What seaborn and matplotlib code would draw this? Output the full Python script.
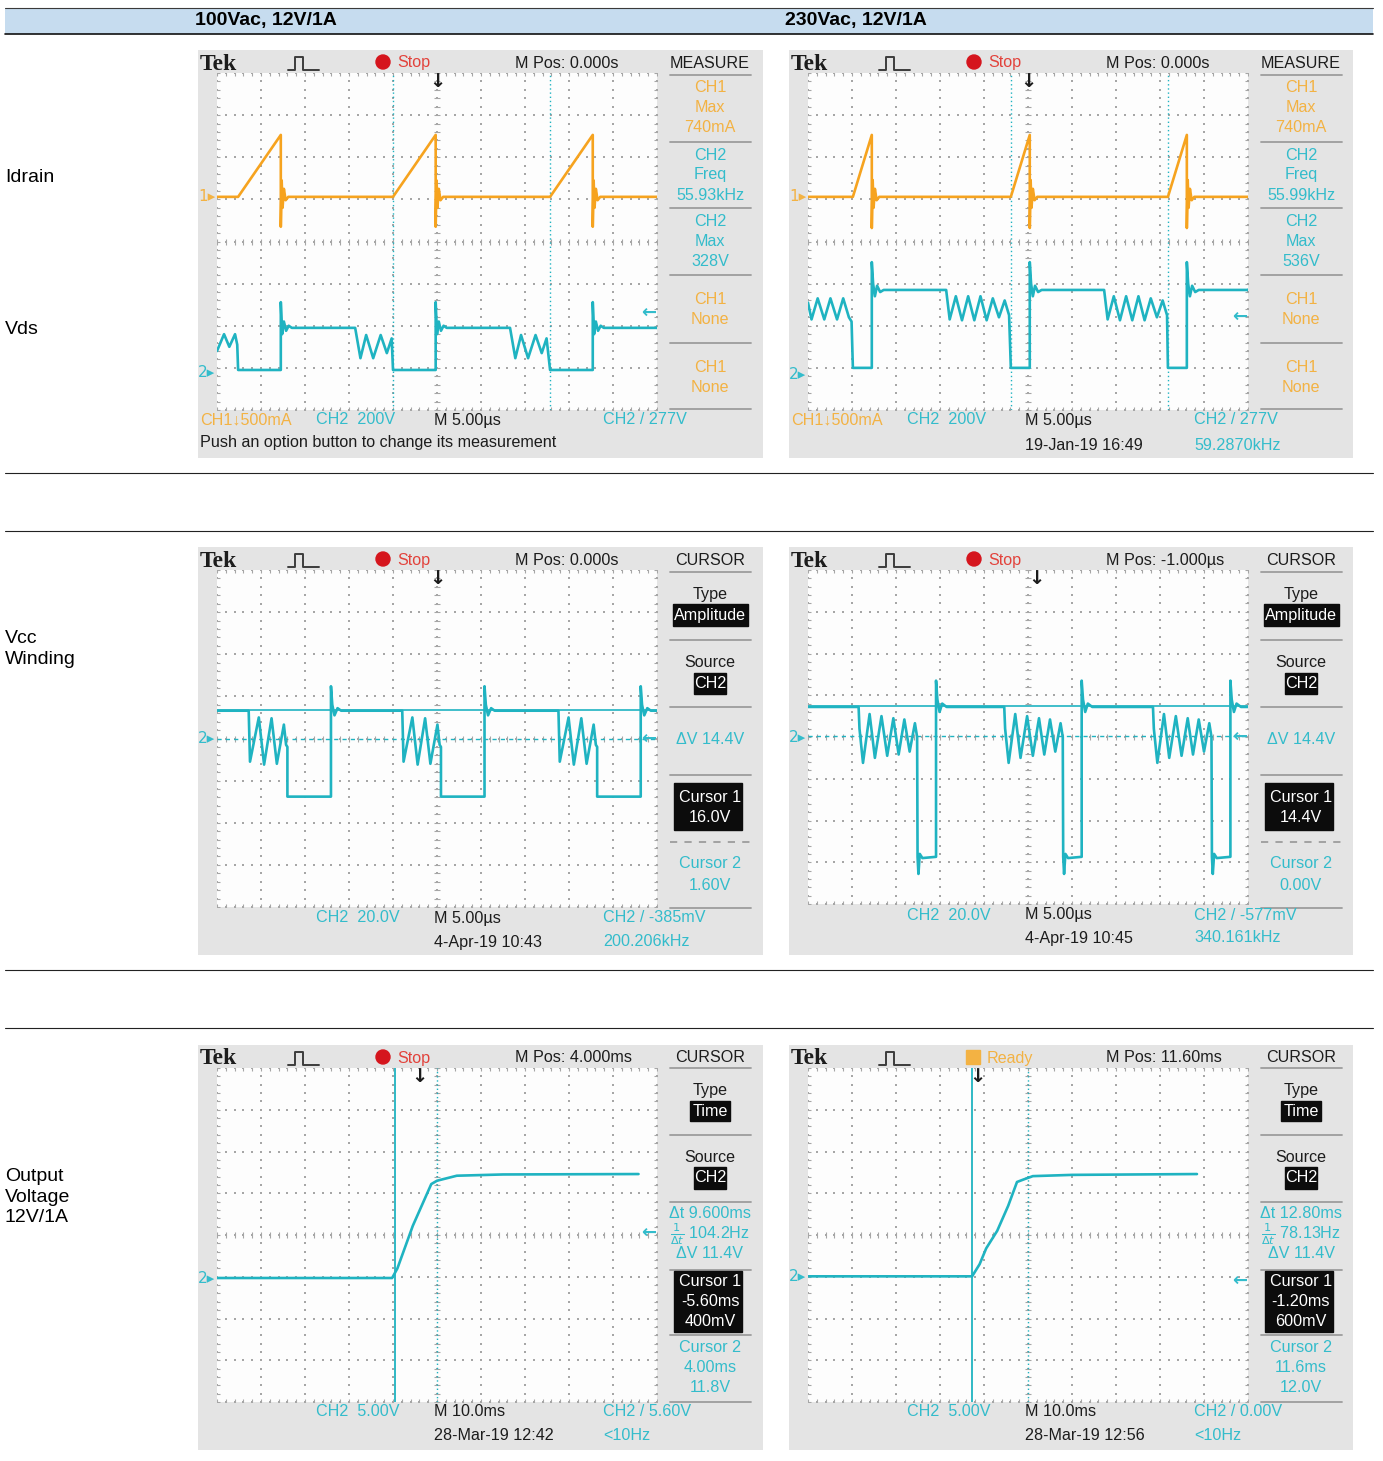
import matplotlib
matplotlib.use("Agg")
import matplotlib.pyplot as plt
from matplotlib.patches import Rectangle, Circle
import seaborn as sns

sns.set_theme(style="white")
plt.rcParams['font.family'] = ['Liberation Sans', 'DejaVu Sans']
SCOPE_FONT = ['Liberation Sans', 'DejaVu Sans']
ARROW_FONT = ['DejaVu Sans']

W, H = 1383, 1461

ORANGE = '#f6a31f'
ORANGE_TXT = '#f3b243'
CYAN = '#1fb3c1'
CYAN_TXT = '#33bccb'
INK = '#1c1c1c'
PANEL = '#e4e4e4'
SCREEN = '#fdfdfd'
GRID = '#a6a6a6'
SEP = '#9c9c9c'

# ---------------- data, in screen divisions (x 0..10, y -4..4) ----------------
col_titles = ['100Vac, 12V/1A', '230Vac, 12V/1A']
row_labels = ['Idrain', 'Vds', 'Vcc\nWinding', 'Output\nVoltage\n12V/1A']

# Idrain: switch-on instants and the shape of one current pulse after each
idrain_base = 1.06
idrain_100_on = [0.48, 4.0, 7.57]
idrain_100_pulse_t = [0.0, 0.97, 0.97, 0.99, 1.01, 1.04, 1.08, 1.14]
idrain_100_pulse_v = [1.06, 2.53, 0.35, 1.45, 0.80, 1.25, 0.98, 1.06]
idrain_230_on = [1.02, 4.61, 8.18]
idrain_230_pulse_t = [0.0, 0.43, 0.43, 0.45, 0.47, 0.50, 0.54, 0.60]
idrain_230_pulse_v = [1.06, 2.53, 0.32, 1.46, 0.80, 1.25, 0.98, 1.06]

# Vds: trace before the first switch-on, then one switching cycle
vds_100_lead_t = [0.0, 0.16, 0.28, 0.41, 0.46]
vds_100_lead_v = [-2.60, -2.20, -2.50, -2.20, -2.45]
vds_100_cycle_t = [0.0, 0.97, 0.97, 1.00, 1.04, 1.09, 1.15, 1.22, 2.66, 2.78,
                   2.91, 3.07, 3.24, 3.38, 3.49]
vds_100_cycle_v = [-3.05, -3.05, -1.44, -2.20, -1.90, -2.12, -2.00, -2.05, -2.05, -2.77,
                   -2.22, -2.77, -2.22, -2.65, -2.30]
vds_230_lead_t = [0.0, 0.08, 0.22, 0.37, 0.51, 0.66, 0.80, 0.93, 0.99]
vds_230_lead_v = [-1.45, -1.85, -1.35, -1.85, -1.35, -1.85, -1.35, -1.80, -1.90]
vds_230_cycle_t = [0.0, 0.43, 0.43, 0.46, 0.50, 0.55, 0.62, 0.70, 2.12, 2.20,
                   2.34, 2.48, 2.62, 2.76, 2.90, 3.04, 3.18, 3.32, 3.45, 3.55]
vds_230_cycle_v = [-3.00, -3.00, -0.49, -1.00, -1.30, -1.05, -1.20, -1.15, -1.15, -1.85,
                   -1.30, -1.87, -1.30, -1.87, -1.30, -1.87, -1.35, -1.80, -1.40, -1.75]

# Vcc winding: start of each ringing burst and one burst + off-time shape
vcc_100_high = 0.66
vcc_100_ring = [0.72, 4.21, 7.76]
vcc_100_cycle_t = [0.0, 0.03, 0.23, 0.35, 0.52, 0.64, 0.80, 0.85, 0.88, 0.88,
                   1.87, 1.87, 1.90, 1.95, 2.02, 2.10]
vcc_100_cycle_v = [0.66, -0.55, 0.50, -0.62, 0.48, -0.60, 0.33, -0.15, -0.20, -1.38,
                   -1.38, 1.24, 0.80, 0.55, 0.72, 0.66]
vcc_230_high = 0.72
vcc_230_ring = [1.15, 4.46, 7.84]
vcc_230_cycle_t = [0.0, 0.02, 0.10, 0.25, 0.37, 0.52, 0.65, 0.79, 0.91, 1.04,
                   1.16, 1.28, 1.33, 1.34, 1.36, 1.39, 1.45, 1.76, 1.76, 1.79,
                   1.84, 1.90, 2.00]
vcc_230_cycle_v = [0.72, 0.20, -0.62, 0.55, -0.50, 0.50, -0.45, 0.45, -0.42, 0.42,
                   -0.35, 0.33, 0.00, -2.87, -3.28, -2.80, -2.90, -2.87, 1.35, 0.90,
                   0.60, 0.80, 0.72]

# Output voltage start-up
vout_100_t = [0.0, 3.98, 4.10, 4.45, 4.87, 5.00, 5.45, 6.50, 9.58]
vout_100_v = [-1.03, -1.03, -0.80, 0.22, 1.22, 1.30, 1.42, 1.45, 1.46]
vout_230_t = [0.0, 3.73, 3.90, 4.05, 4.30, 4.55, 4.75, 4.90, 5.11, 6.00, 8.84]
vout_230_v = [-0.99, -0.99, -0.70, -0.32, 0.10, 0.70, 1.27, 1.33, 1.41, 1.44, 1.46]

# cursors, ground markers, trigger level / position
cursor_x_idrain = [[4.0, 7.57], [4.61, 8.18]]
cursor_y_vcc = [[0.68, 0.0], [0.74, 0.02]]
cursor_x_vout = [[4.05, 5.0], [3.73, 5.0]]
ground_row1 = [[1.06, -3.10], [1.06, -3.15]]
ground_vcc = [0.0, 0.0]
ground_vout = [-1.03, -0.99]
trig_level = [[-1.70, -1.79], [0.0, 0.0], [0.04, -1.10]]
trig_pos = [[5.0, 5.0], [5.0, 5.2], [4.6, 3.85]]


def cycles(lead_t, lead_v, starts, cyc_t, cyc_v, tail_v):
    t, v = list(lead_t), list(lead_v)
    for s in starts:
        t += [s + dt for dt in cyc_t]
        v += list(cyc_v)
    t.append(10.0)
    v.append(tail_v)
    return t, v


fig = plt.figure(figsize=(W / 100, H / 100), dpi=100)
fig.patch.set_facecolor('white')
bg = fig.add_axes([0, 0, 1, 1])
bg.set_xlim(0, W)
bg.set_ylim(H, 0)
bg.set_axis_off()
bg.add_patch(Rectangle((5, 8), 1368, 26, facecolor='#c6dcef', edgecolor='none'))
bg.plot([5, 1373], [8, 8], color='#3a3a3a', lw=0.8)
bg.plot([5, 1373], [34, 34], color='#111111', lw=1.2)
for yl in [473, 531, 970, 1028]:
    bg.plot([5, 1373], [yl, yl], color='#222222', lw=0.8)
for xt, title in zip([195, 785], col_titles):
    bg.text(xt, 21, title, fontsize=14, fontweight='bold', va='center', color='black')
for yt, lab in zip([177, 330, 649, 1197], row_labels):
    bg.text(5, yt, lab, fontsize=14, va='center', color='black', linespacing=1.3)


def txt(ax, x, y, s, color=INK, ha='left', size=11.6, **kw):
    ax.text(x, y, s, color=color, ha=ha, va='center', fontsize=size,
            family=SCOPE_FONT, **kw)


def scope(x0, y0, w, h, status, mpos, mode, gh=337):
    pa = fig.add_axes([x0 / W, 1 - (y0 + h) / H, w / W, h / H])
    pa.set_xlim(0, w)
    pa.set_ylim(h, 0)
    pa.set_axis_off()
    pa.add_patch(Rectangle((0, 0), w, h, facecolor=PANEL, edgecolor='none', zorder=0))
    pa.text(2, 14, 'Tek', fontsize=17, fontweight='bold', va='center', color=INK,
            family=['Liberation Serif', 'DejaVu Serif'])
    pa.plot([90, 97, 97, 105, 105, 121], [20, 20, 7, 7, 20, 20], color='#3c3c3c', lw=1.4)
    if status == 'Stop':
        pa.add_patch(Circle((185, 12), 7, color='#d5151d'))
        txt(pa, 199, 13, 'Stop', color='#e2423b')
    else:
        pa.add_patch(Rectangle((177, 5), 14, 14, color=ORANGE_TXT))
        txt(pa, 198, 13, 'Ready', color=ORANGE_TXT)
    txt(pa, 317, 13, mpos)
    txt(pa, 512, 13, mode, ha='center')

    ga = fig.add_axes([(x0 + 19) / W, 1 - (y0 + 23 + gh) / H, 440 / W, gh / H])
    ga.set_facecolor(SCREEN)
    ga.set_xticks([])
    ga.set_yticks([])
    for sp in ga.spines.values():
        sp.set_visible(False)
    gx = [i * 0.2 for i in range(51)]
    gy = [j * 0.2 - 4 for j in range(41)]
    xs, ys = [], []
    for xl in range(11):
        xs += [xl] * len(gy)
        ys += gy
    for yl in range(-4, 5):
        xs += gx
        ys += [yl] * len(gx)
    ga.scatter(xs, ys, s=1.8, color=GRID, marker='s', linewidths=0, zorder=1)
    for xl in [0, 5, 10]:
        ga.scatter([xl] * len(gy), gy, marker='_', s=20, color=GRID, linewidths=0.8, zorder=1)
    for yl in [-4, 0, 4]:
        ga.scatter(gx, [yl] * len(gx), marker='|', s=20, color=GRID, linewidths=0.8, zorder=1)
    return pa, ga


def finish(ga):
    ga.set_xlim(0, 10)
    ga.set_ylim(-4, 4)


def wave(ga, t, v, color):
    sns.lineplot(x=t, y=v, ax=ga, color=color, linewidth=1.9, sort=False,
                 estimator=None, zorder=4)


def ground(ga, ch, y, color):
    ga.text(-0.04, y, f'{ch}▸', color=color, ha='right', va='center', fontsize=11,
            clip_on=False, family=ARROW_FONT)


def markers(ga, level, pos):
    ga.text(9.98, level, '←', color=CYAN_TXT, ha='right', va='center', fontsize=13,
            fontweight='bold', family=ARROW_FONT, zorder=5)
    ga.text(pos, 4.02, '↓', color=INK, ha='center', va='top', fontsize=14,
            fontweight='bold', family=ARROW_FONT, zorder=5)


def column(pa, seps, dashed=None):
    for yl in seps:
        pa.plot([472, 553], [yl, yl], color=SEP, lw=1.3)
    if dashed is not None:
        pa.plot([472, 553], [dashed, dashed], color=SEP, lw=1.3, ls=(0, (4, 4)))


def boxed(pa, rect, lines):
    pa.add_patch(Rectangle(rect[:2], rect[2], rect[3], color='#0c0c0c', zorder=2))
    for yl, s in lines:
        txt(pa, 512, yl, s, color='white', ha='center', zorder=3)


PX = [198, 789]
PW = [565, 564]

# ---------------- row 1 : Idrain + Vds ----------------
freq = ['55.93kHz', '55.99kHz']
vmax = ['328V', '536V']
for k in range(2):
    pa, ga = scope(PX[k], 50, PW[k], 408, 'Stop', 'M Pos: 0.000s', 'MEASURE')
    for xc in cursor_x_idrain[k]:
        ga.axvline(xc, color=CYAN, lw=1.0, ls=(0, (1, 2)), zorder=2)
    if k == 0:
        it, iv = cycles([0.0], [idrain_base], idrain_100_on, idrain_100_pulse_t,
                        idrain_100_pulse_v, idrain_base)
        vt, vv = cycles(vds_100_lead_t, vds_100_lead_v, idrain_100_on,
                        vds_100_cycle_t, vds_100_cycle_v, -2.05)
    else:
        it, iv = cycles([0.0], [idrain_base], idrain_230_on, idrain_230_pulse_t,
                        idrain_230_pulse_v, idrain_base)
        vt, vv = cycles(vds_230_lead_t, vds_230_lead_v, idrain_230_on,
                        vds_230_cycle_t, vds_230_cycle_v, -1.15)
    wave(ga, it, iv, ORANGE)
    wave(ga, vt, vv, CYAN)
    ground(ga, 1, ground_row1[k][0], ORANGE_TXT)
    ground(ga, 2, ground_row1[k][1], CYAN_TXT)
    markers(ga, trig_level[0][k], trig_pos[0][k])
    finish(ga)
    column(pa, [25, 92, 158, 225, 293, 359])
    for yl, s, c in [(38, 'CH1', ORANGE_TXT), (58, 'Max', ORANGE_TXT), (78, '740mA', ORANGE_TXT),
                     (105, 'CH2', CYAN_TXT), (125, 'Freq', CYAN_TXT), (145, freq[k], CYAN_TXT),
                     (172, 'CH2', CYAN_TXT), (192, 'Max', CYAN_TXT), (212, vmax[k], CYAN_TXT),
                     (250, 'CH1', ORANGE_TXT), (270, 'None', ORANGE_TXT),
                     (317, 'CH1', ORANGE_TXT), (337, 'None', ORANGE_TXT)]:
        txt(pa, 512, yl, s, color=c, ha='center')
    txt(pa, 2, 370, 'CH1↓500mA', color=ORANGE_TXT)
    txt(pa, 118, 370, 'CH2  200V', color=CYAN_TXT)
    txt(pa, 236, 370, 'M 5.00µs')
    txt(pa, 405, 370, 'CH2 / 277V', color=CYAN_TXT)
    if k == 0:
        txt(pa, 2, 393, 'Push an option button to change its measurement')
    else:
        txt(pa, 236, 396, '19-Jan-19 16:49')
        txt(pa, 405, 396, '59.2870kHz', color=CYAN_TXT)

# ---------------- row 2 : Vcc winding ----------------
mpos2 = ['M Pos: 0.000s', 'M Pos: -1.000µs']
c1 = ['16.0V', '14.4V']
c2 = ['1.60V', '0.00V']
trig2 = ['CH2 / -385mV', 'CH2 / -577mV']
date2 = ['4-Apr-19 10:43', '4-Apr-19 10:45']
fr2 = ['200.206kHz', '340.161kHz']
yb2 = [[371, 395], [368, 391]]
gh2 = [337, 334]
for k in range(2):
    pa, ga = scope(PX[k], 547, PW[k], 408, 'Stop', mpos2[k], 'CURSOR', gh=gh2[k])
    ga.axhline(cursor_y_vcc[k][0], color=CYAN, lw=1.2, zorder=3)
    ga.axhline(cursor_y_vcc[k][1], color=CYAN, lw=1.0, ls=(0, (3, 3)), zorder=3)
    if k == 0:
        t, v = cycles([0.0], [vcc_100_high], vcc_100_ring, vcc_100_cycle_t,
                      vcc_100_cycle_v, vcc_100_high)
    else:
        t, v = cycles([0.0], [vcc_230_high], vcc_230_ring, vcc_230_cycle_t,
                      vcc_230_cycle_v, vcc_230_high)
    wave(ga, t, v, CYAN)
    ground(ga, 2, ground_vcc[k], CYAN_TXT)
    markers(ga, trig_level[1][k], trig_pos[1][k])
    finish(ga)
    column(pa, [25, 93, 160, 228, 361], dashed=295)
    txt(pa, 512, 47, 'Type', ha='center')
    boxed(pa, (475, 57, 75, 22), [(68, 'Amplitude')])
    txt(pa, 512, 115, 'Source', ha='center')
    boxed(pa, (496, 126, 32, 21), [(136, 'CH2')])
    txt(pa, 512, 193, 'ΔV 14.4V', color=CYAN_TXT, ha='center')
    boxed(pa, (476, 236, 68, 47), [(250, 'Cursor 1'), (270, c1[k])])
    txt(pa, 512, 317, 'Cursor 2', color=CYAN_TXT, ha='center')
    txt(pa, 512, 338, c2[k], color=CYAN_TXT, ha='center')
    txt(pa, 118, yb2[k][0], 'CH2  20.0V', color=CYAN_TXT)
    txt(pa, 236, yb2[k][0], 'M 5.00µs')
    txt(pa, 405, yb2[k][0], trig2[k], color=CYAN_TXT)
    txt(pa, 236, yb2[k][1], date2[k])
    txt(pa, 405, yb2[k][1], fr2[k], color=CYAN_TXT)

# ---------------- row 3 : output voltage ----------------
status3 = ['Stop', 'Ready']
mpos3 = ['M Pos: 4.000ms', 'M Pos: 11.60ms']
dt3 = ['Δt 9.600ms', 'Δt 12.80ms']
inv3 = [r'$\frac{1}{\Delta t}$ 104.2Hz', r'$\frac{1}{\Delta t}$ 78.13Hz']
cur1 = [['-5.60ms', '400mV'], ['-1.20ms', '600mV']]
cur2 = [['4.00ms', '11.8V'], ['11.6ms', '12.0V']]
trig3 = ['CH2 / 5.60V', 'CH2 / 0.00V']
date3 = ['28-Mar-19 12:42', '28-Mar-19 12:56']
vout_t = [vout_100_t, vout_230_t]
vout_v = [vout_100_v, vout_230_v]
for k in range(2):
    pa, ga = scope(PX[k], 1045, PW[k], 405, status3[k], mpos3[k], 'CURSOR', gh=334)
    ga.axvline(cursor_x_vout[k][0], color=CYAN, lw=1.3, zorder=3)
    ga.axvline(cursor_x_vout[k][1], color=CYAN, lw=1.0, ls=(0, (1, 2)), zorder=3)
    wave(ga, vout_t[k], vout_v[k], CYAN)
    ground(ga, 2, ground_vout[k], CYAN_TXT)
    markers(ga, trig_level[2][k], trig_pos[2][k])
    finish(ga)
    column(pa, [23, 90, 157, 225, 290, 357])
    txt(pa, 512, 46, 'Type', ha='center')
    boxed(pa, (492, 56, 40, 20), [(66, 'Time')])
    txt(pa, 512, 112, 'Source', ha='center')
    boxed(pa, (496, 122, 32, 22), [(133, 'CH2')])
    txt(pa, 512, 169, dt3[k], color=CYAN_TXT, ha='center')
    txt(pa, 512, 189, inv3[k], color=CYAN_TXT, ha='center')
    txt(pa, 512, 209, 'ΔV 11.4V', color=CYAN_TXT, ha='center')
    boxed(pa, (476, 226, 68, 61), [(236, 'Cursor 1'), (256, cur1[k][0]), (276, cur1[k][1])])
    txt(pa, 512, 303, 'Cursor 2', color=CYAN_TXT, ha='center')
    txt(pa, 512, 323, cur2[k][0], color=CYAN_TXT, ha='center')
    txt(pa, 512, 343, cur2[k][1], color=CYAN_TXT, ha='center')
    txt(pa, 118, 367, 'CH2  5.00V', color=CYAN_TXT)
    txt(pa, 236, 367, 'M 10.0ms')
    txt(pa, 405, 367, trig3[k], color=CYAN_TXT)
    txt(pa, 236, 390, date3[k])
    txt(pa, 405, 390, '<10Hz', color=CYAN_TXT)

fig.savefig('out.png', dpi=100, facecolor='white')
